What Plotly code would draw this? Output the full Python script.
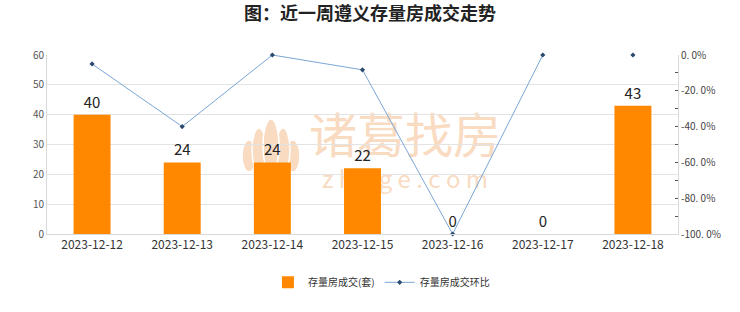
import plotly.graph_objects as go

dates = ["2023-12-12", "2023-12-13", "2023-12-14", "2023-12-15", "2023-12-16", "2023-12-17", "2023-12-18"]
deals = [40, 24, 24, 22, 0, 0, 43]
mom_pct = [-5.0, -40.0, 0.0, -8.3, -100.0, 0.0, 0.0]
line_count = 6  # line drawn through the first six points; last point marker only

right_ticks = [0, -20, -40, -60, -80, -100]
right_ticktext = ["0. 0%", "-20. 0%", "-40. 0%", "-60. 0%", "-80. 0%", "-100. 0%"]

FONT = "Noto Sans CJK SC"
BAR_COLOR = "#ff8800"
LINE_COLOR = "#7aa6d6"
MARKER_COLOR = "#2b4a6e"
WM_COLOR = "#f9dbc2"

fig = go.Figure()
fig.add_trace(go.Bar(
    x=dates, y=deals, name="存量房成交(套)",
    marker=dict(color=BAR_COLOR, line=dict(width=0)),
    width=0.41,
    text=[str(v) for v in deals], textposition="outside",
    textfont=dict(size=15, color="#222222", family=FONT),
    cliponaxis=False,
))
fig.add_trace(go.Scatter(
    x=dates[:line_count], y=mom_pct[:line_count], name="存量房成交环比",
    yaxis="y2", mode="lines+markers",
    line=dict(color=LINE_COLOR, width=1),
    marker=dict(symbol="diamond", size=4, color=MARKER_COLOR),
    legendgroup="mom", cliponaxis=False,
))
fig.add_trace(go.Scatter(
    x=dates[line_count:], y=mom_pct[line_count:], name="存量房成交环比",
    yaxis="y2", mode="markers", showlegend=False,
    marker=dict(symbol="diamond", size=4, color=MARKER_COLOR),
    legendgroup="mom", cliponaxis=False,
))

# watermark (drawn below the data)
def px_x(px):
    return (px - 47) / 631

def px_y(py):
    return (234 - py) / 179

shapes = []
petals = [(242, 256, 140, 172), (286, 300, 140, 172), (252, 266, 128, 172),
          (276, 290, 128, 172), (263, 279, 119, 172)]
for x0, x1, y0, y1 in petals:
    shapes.append(dict(type="circle", xref="paper", yref="paper", layer="below",
                       x0=px_x(x0), x1=px_x(x1), y0=px_y(y1), y1=px_y(y0),
                       fillcolor=WM_COLOR, line=dict(color="white", width=1.5)))
shapes.append(dict(type="rect", xref="paper", yref="paper", layer="below",
                   x0=px_x(305), x1=px_x(505), y0=px_y(160), y1=px_y(120),
                   line=dict(width=0), fillcolor="rgba(0,0,0,0)",
                   label=dict(text="诸葛找房", textposition="middle center",
                              font=dict(size=48, color=WM_COLOR, family=FONT))))
shapes.append(dict(type="rect", xref="paper", yref="paper", layer="below",
                   x0=px_x(305), x1=px_x(505), y0=px_y(192), y1=px_y(170),
                   line=dict(width=0), fillcolor="rgba(0,0,0,0)",
                   label=dict(text="z h u g e . c o m", textposition="middle center",
                              font=dict(size=24, color=WM_COLOR, family=FONT))))

fig.update_layout(
    width=740, height=312,
    margin=dict(l=47, r=62, t=55, b=78),
    paper_bgcolor="white", plot_bgcolor="white",
    font=dict(family=FONT, size=11, color="#444444"),
    title=dict(text="<b>图：近一周遵义存量房成交走势</b>", x=0.5, xanchor="center",
               y=0.955, yanchor="middle", font=dict(size=18, color="#222222", family=FONT)),
    xaxis=dict(
        type="category", showgrid=False, showline=True, linecolor="#d9d9d9", linewidth=1,
        ticks="", tickfont=dict(size=12, color="#333333", family=FONT),
    ),
    yaxis=dict(
        range=[0, 60], dtick=10, showgrid=True, gridcolor="#e3e3e3", gridwidth=1,
        showline=True, linecolor="#d9d9d9", linewidth=1, zeroline=False,
        tickfont=dict(size=10, color="#555555", family=FONT), ticks="",
    ),
    yaxis2=dict(
        overlaying="y", side="right", range=[-100, 0],
        tickvals=right_ticks, ticktext=right_ticktext,
        showgrid=False, zeroline=False, showline=True, linecolor="#d9d9d9", linewidth=1,
        ticks="inside", ticklen=3, tickcolor="#555555",
        minor=dict(ticks="inside", ticklen=3, dtick=10, tickcolor="#555555", showgrid=False),
        tickfont=dict(size=10, color="#444444", family=FONT),
    ),
    legend=dict(orientation="h", x=0.53, xanchor="center", y=-0.27, yanchor="middle",
                font=dict(size=10, color="#333333", family=FONT),
                itemwidth=30, traceorder="normal"),
    showlegend=True,
    shapes=shapes,
)

fig.write_html("out.html")
